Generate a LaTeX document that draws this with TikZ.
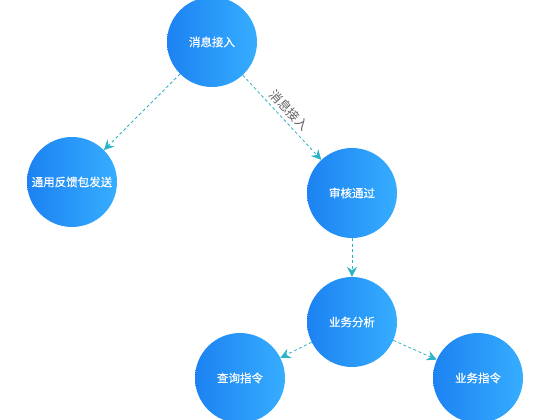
\documentclass[tikz,border=0pt]{standalone}
\usepackage{fontspec}
\newfontfamily\cjk{Noto Sans CJK SC}
\newfontfamily\cjkb{Noto Sans CJK SC}[FakeBold=0.5]
\usetikzlibrary{arrows.meta}
\definecolor{lblue}{HTML}{1C82F2}
\definecolor{rblue}{HTML}{36ADFF}
\definecolor{teal}{HTML}{2DB3C6}
\tikzset{
  bubble/.style={circle, minimum size=90pt, inner sep=0pt, left color=lblue, right color=rblue, text=white, font=\cjkb\fontsize{11.5}{13}\selectfont},
  link/.style={draw=teal, dashed, dash pattern=on 3pt off 2.5pt, line width=0.8pt, -{Stealth[length=10pt,width=10pt,inset=3.5pt]}, teal},
  lbl/.style={text=gray!75!black, font=\cjk\fontsize{12.5}{14}\selectfont, inner sep=4pt}
}
\begin{document}
\begin{tikzpicture}[x=1pt,y=-1pt]
\useasboundingbox (0,0) rectangle (550,420);
\node[bubble] (a) at (212,42) {消息接入};
\node[bubble] (b) at (72,182) {通用反馈包发送};
\node[bubble] (c) at (352,193) {审核通过};
\node[bubble] (d) at (352,322) {业务分析};
\node[bubble] (e) at (240,378) {查询指令};
\node[bubble] (f) at (478,378) {业务指令};
\draw[link] (a) -- (b);
\draw[link] (a) -- node[lbl, sloped, above] {消息接入} (c);
\draw[link] (c) -- (d);
\draw[link] (d) -- (e);
\draw[link] (d) -- (f);
\end{tikzpicture}
\end{document}
